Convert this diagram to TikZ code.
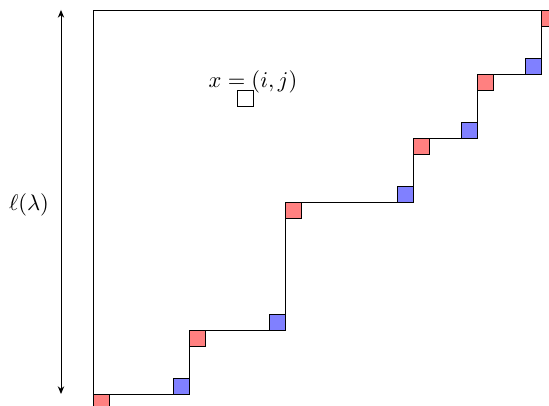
\documentclass[tikz,border=0pt]{standalone}
\usepackage{xcolor}
\usepackage{tikz}
\usepackage{amsmath}
\usetikzlibrary{arrows.meta,positioning}

\begin{document}
\begin{tikzpicture}[x=0.25cm, y=0.25cm,
  redcell/.style={draw, fill=red!50},
  bluecell/.style={draw, fill=blue!50},
  cellbox/.style={rectangle, draw, minimum size=0.25cm, inner sep=0pt},
]
  \useasboundingbox (-5.8125,-0.75) rectangle (28.5,24.625);

  % boundary of the partition
  \draw (0,0) -- (0,24) -- (28.5,24);
  \draw (0,0) -- (6,0) -- (6,4) -- (12,4) -- (12,12) -- (20,12) -- (20,16)
        -- (24,16) -- (24,20) -- (28,20) -- (28,24);

  \foreach \x/\y in {0/0, 6/4, 12/12, 20/16, 24/20, 28/24}
    \draw[redcell] (\x,\y) rectangle ++(1,-1);
  \foreach \x/\y in {6/0, 12/4, 20/12, 24/16, 28/20}
    \draw[bluecell] (\x,\y) rectangle ++(-1,1);

  \node[cellbox] (cell) at (9.5,18.5) {};
  \node (cellname) at (10,19.5) {$x=(i,j)$};

  \coordinate (lentop) at (-2,24);
  \coordinate (lenbot) at (-2,0);
  \node (len) at (-4,11.8) {$\ell(\lambda)$};
  \draw[{Stealth[length=1.2mm,width=1mm]}-{Stealth[length=1.2mm,width=1mm]}] (lenbot) -- (lentop);
\end{tikzpicture}
\end{document}
